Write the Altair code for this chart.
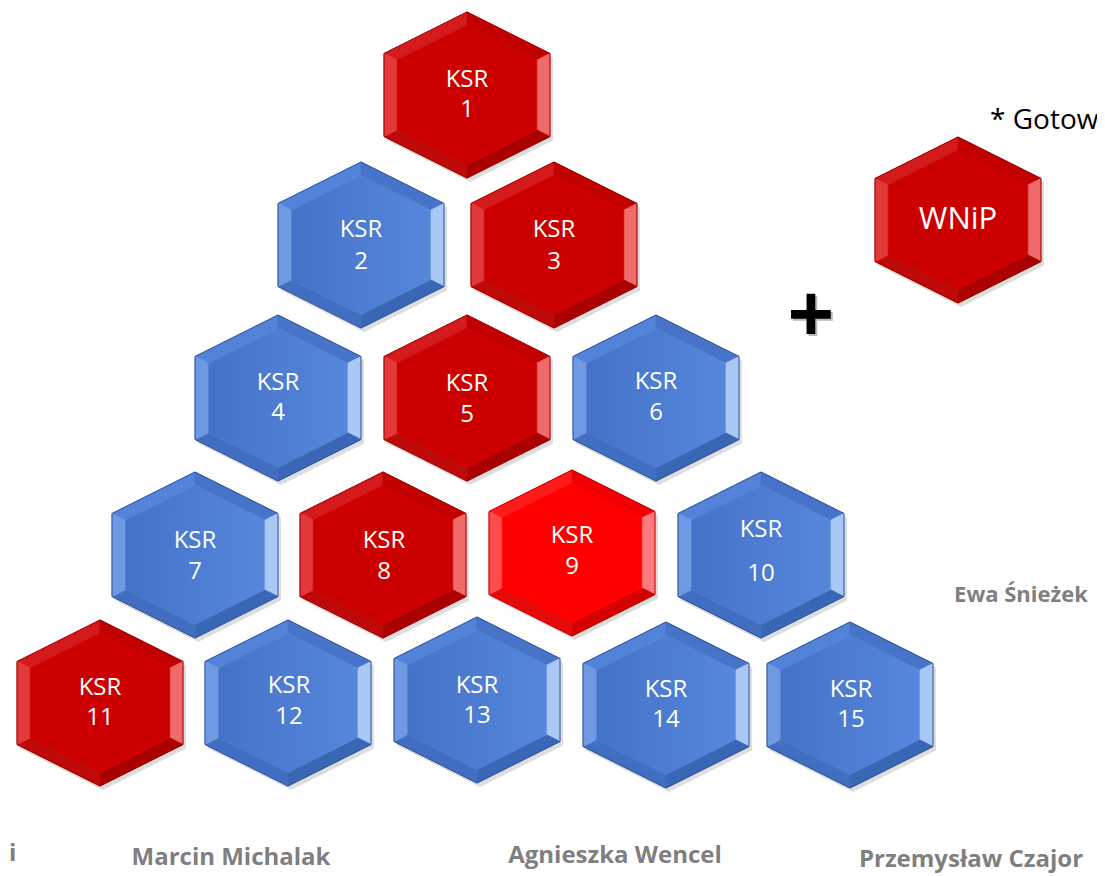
import altair as alt
import pandas as pd

# ---- data ----
hex_names = ["1", "2", "3", "4", "5", "6", "7", "8", "9", "10", "11", "12", "13", "14", "15", "WNiP"]
hex_x = [467, 361, 554, 278, 467, 656, 195, 383, 572, 761, 100, 288, 477, 666, 850, 958]
hex_y = [95, 245, 245, 398, 398, 398, 555, 555, 553, 555, 703, 703, 700, 705, 705, 220]
hex_kind = ["red", "blue", "red", "blue", "red", "blue", "blue", "red", "bright",
            "blue", "red", "blue", "blue", "blue", "blue", "red"]

ksr_labels = ["1", "2", "3", "4", "5", "6", "7", "8", "9", "10", "11", "12", "13", "14", "15"]
text_x = [467, 361, 554, 278, 467, 656, 195, 384, 572, 761, 100, 289, 477, 666, 851]
ksr_text_y = [80, 230, 230, 383, 384, 382, 541, 541, 536, 530, 688, 686, 686, 690, 690]
num_text_y = [110, 262, 262, 413, 415, 413, 572, 572, 567, 574, 718, 717, 716, 720, 720]

wnip_label = ["WNiP"]
wnip_x = [958]
wnip_y = [220]

people = ["Marcin Michalak", "Agnieszka Wencel", "Przemysław Czajor"]
people_x = [231, 615, 971]
people_y = [858, 856, 860]

side_name = ["Ewa Śnieżek"]
side_x = [1021]
side_y = [595]

edge_text = ["i"]
edge_x = [9]
edge_y = [854]

note_text = ["* Gotowy"]
note_x = [990]
note_y = [121]

plus_text = ["+"]
plus_x = [811]
plus_y = [318]

KINDS = ["red", "bright", "blue"]

hexes = pd.DataFrame({"name": hex_names, "x": hex_x, "y": hex_y, "kind": hex_kind})
ksr_df = pd.DataFrame({"x": text_x, "y": ksr_text_y, "t": ["KSR"] * len(text_x)})
num_df = pd.DataFrame({"x": text_x, "y": num_text_y, "t": ksr_labels})
wnip_df = pd.DataFrame({"x": wnip_x, "y": wnip_y, "t": wnip_label})
people_df = pd.DataFrame({"x": people_x, "y": people_y, "t": people})
side_df = pd.DataFrame({"x": side_x, "y": side_y, "t": side_name})
edge_df = pd.DataFrame({"x": edge_x, "y": edge_y, "t": edge_text})
note_df = pd.DataFrame({"x": note_x, "y": note_y, "t": note_text})
plus_df = pd.DataFrame({"x": plus_x, "y": plus_y, "t": plus_text})

W, H = 1089, 868
X = alt.X("x:Q", scale=alt.Scale(domain=[8, 8 + W], nice=False, zero=False), axis=None)
Y = alt.Y("y:Q", scale=alt.Scale(domain=[8, 8 + H], nice=False, zero=False, reverse=True), axis=None)

HEX_SIZE = 166 ** 2
OUTER = "M0,-1L1,-0.5L1,0.5L0,1L-1,0.5L-1,-0.5Z"
INNER = "M0,-0.84L0.84,-0.42L0.84,0.42L0,0.84L-0.84,0.42L-0.84,-0.42Z"
FACETS = {
    "TL": "M0,-1L-1,-0.5L-0.84,-0.42L0,-0.84Z",
    "TR": "M0,-1L1,-0.5L0.84,-0.42L0,-0.84Z",
    "R": "M1,-0.5L1,0.5L0.84,0.42L0.84,-0.42Z",
    "BR": "M1,0.5L0,1L0,0.84L0.84,0.42Z",
    "BL": "M0,1L-1,0.5L-0.84,0.42L0,0.84Z",
    "L": "M-1,0.5L-1,-0.5L-0.84,-0.42L-0.84,0.42Z",
}
FACET_COLORS = {
    "TL": ["#d41a1a", "#ff1a1a", "#5383d8"],
    "TR": ["#c20000", "#f00000", "#4774c9"],
    "R": ["#f06a6a", "#ff7a7a", "#a9c8f6"],
    "BR": ["#aa0000", "#d60000", "#3a66b6"],
    "BL": ["#bf0a0a", "#e60a0a", "#416ec1"],
    "L": ["#e23a3a", "#ff4c4c", "#7099e4"],
}


def hex_layer(path, colors, data=hexes, **kw):
    sc = alt.Scale(domain=KINDS, range=colors)
    return alt.Chart(data).mark_point(
        shape=path, size=HEX_SIZE, filled=True, opacity=1, strokeWidth=0.8, **kw
    ).encode(
        x=X, y=Y,
        fill=alt.Fill("kind:N", scale=sc, legend=None),
        stroke=alt.Stroke("kind:N", scale=sc, legend=None),
    )


layers = []
# shadow
layers.append(
    alt.Chart(hexes).mark_point(
        shape=OUTER, size=HEX_SIZE, filled=True, opacity=0.2, color="#555555",
        xOffset=3, yOffset=4, strokeWidth=0
    ).encode(x=X, y=Y)
)
# bevel facets
for key, path in FACETS.items():
    layers.append(hex_layer(path, FACET_COLORS[key]))
# red bodies
red_sc = alt.Scale(domain=["red", "bright"], range=["#cc0000", "#ff0000"])
layers.append(
    alt.Chart(hexes).transform_filter(alt.datum.kind != "blue").mark_point(
        shape=INNER, size=HEX_SIZE, filled=True, opacity=1, strokeWidth=0.8
    ).encode(
        x=X, y=Y,
        fill=alt.Fill("kind:N", scale=red_sc, legend=None),
        stroke=alt.Stroke("kind:N", scale=red_sc, legend=None),
    )
)
# blue bodies with gradient
layers.append(
    alt.Chart(hexes).transform_filter(alt.datum.kind == "blue").mark_point(
        shape=INNER, size=HEX_SIZE, filled=True, opacity=1, strokeWidth=0,
        fill=alt.Gradient(
            gradient="linear", x1=0, x2=1, y1=0, y2=0,
            stops=[alt.GradientStop(offset=0, color="#4472c8"),
                   alt.GradientStop(offset=1, color="#5687dc")],
        ),
    ).encode(x=X, y=Y)
)
# outer outline
layers.append(
    alt.Chart(hexes).mark_point(
        shape=OUTER, size=HEX_SIZE, filled=False, opacity=1, strokeWidth=1
    ).encode(
        x=X, y=Y,
        stroke=alt.Stroke("kind:N", scale=alt.Scale(domain=KINDS, range=["#9a0000", "#c00000", "#2f5597"]), legend=None),
    )
)

FONT = "Open Sans"


def text_layer(df, size, color, weight="normal", align="center", **kw):
    return alt.Chart(df).mark_text(
        font=FONT, fontSize=size, color=color, fontWeight=weight, align=align,
        baseline="middle", **kw
    ).encode(x=X, y=Y, text="t:N")


layers.append(text_layer(ksr_df, 24, "white"))
layers.append(text_layer(num_df, 24, "white"))
layers.append(text_layer(wnip_df, 31, "white"))
layers.append(text_layer(people_df, 24, "#7f7f7f", weight="bold"))
layers.append(text_layer(side_df, 22, "#7f7f7f", weight="bold"))
layers.append(text_layer(edge_df, 24, "#7f7f7f", weight="bold", align="left"))
layers.append(text_layer(note_df, 28, "black", align="left"))
layers.append(text_layer(plus_df, 82, "#666666", weight="bold", dx=2, dy=2, opacity=0.45))
layers.append(text_layer(plus_df, 82, "black", weight="bold"))

chart = alt.layer(*layers).resolve_scale(
    fill="independent", stroke="independent"
).properties(
    width=W, height=H, padding=0,
    autosize=alt.AutoSizeParams(type="none"),
).configure_view(stroke=None)

chart.save("out.html", embed_options={"renderer": "svg", "actions": False})
